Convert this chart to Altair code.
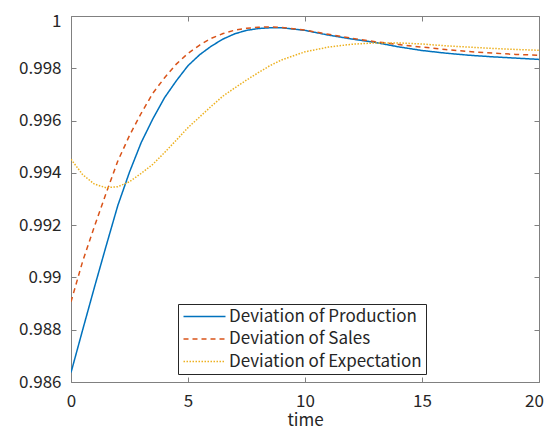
import altair as alt
import pandas as pd

t = [0, 0.5, 1, 1.5, 2, 2.5, 3, 3.5, 4, 4.5, 5, 5.5, 6, 6.5, 7, 7.5, 8, 8.5, 9,
     10, 11, 12, 13, 14, 15, 16, 17, 18, 19, 20]

production = [0.98636, 0.98800, 0.98962, 0.99120, 0.99275, 0.99403, 0.99516, 0.99607,
              0.99688, 0.99752, 0.99810, 0.99852, 0.99885, 0.99912, 0.99932, 0.99945,
              0.99952, 0.99955, 0.99955, 0.99945, 0.99927, 0.99912, 0.99899, 0.99882,
              0.99868, 0.99858, 0.99850, 0.99844, 0.99839, 0.99834]

sales = [0.98907, 0.99062, 0.99195, 0.99322, 0.99445, 0.99543, 0.99628, 0.99705,
         0.99764, 0.99816, 0.99857, 0.99889, 0.99915, 0.99933, 0.99946, 0.99953,
         0.99957, 0.99958, 0.99956, 0.99946, 0.99930, 0.99915, 0.99902, 0.99891,
         0.99881, 0.99872, 0.99864, 0.99858, 0.99853, 0.99850]

expectation = [0.99452, 0.99393, 0.99357, 0.99343, 0.99347, 0.99366, 0.99398, 0.99433,
               0.99478, 0.99525, 0.99573, 0.99614, 0.99655, 0.99694, 0.99725, 0.99755,
               0.99783, 0.99810, 0.99832, 0.99863, 0.99881, 0.99892, 0.99897, 0.99897,
               0.99893, 0.99886, 0.99881, 0.99876, 0.99872, 0.99869]

series_names = ["Deviation of Production", "Deviation of Sales", "Deviation of Expectation"]
series_colors = ["#0072BD", "#D95319", "#EDB120"]
series_dashes = [[1, 0], [5, 4], [1.5, 1.5]]

x_ticks = [0, 5, 10, 15, 20]
y_ticks = [0.986, 0.988, 0.99, 0.992, 0.994, 0.996, 0.998, 1.0]

rows = []
for name, vals in zip(series_names, [production, sales, expectation]):
    for ti, v in zip(t, vals):
        rows.append({"time": ti, "value": v, "series": name})
df = pd.DataFrame(rows)

FONT = "Noto Sans CJK JP"
TXT = "#262626"
AX = "#808080"

xscale = alt.Scale(domain=[0, 20], nice=False, zero=False)
yscale = alt.Scale(domain=[0.986, 1.0], nice=False, zero=False)

lines = alt.Chart(df).mark_line(strokeWidth=1.5, clip=True).encode(
    x=alt.X("time:Q", scale=xscale,
            axis=alt.Axis(values=x_ticks, format="d", orient="bottom", offset=-5,
                          tickSize=5, domain=False, grid=False, tickColor=AX,
                          labelFlush=False, labelPadding=11, labelFontSize=17,
                          labelFont=FONT, labelColor=TXT, title="time", titleFont=FONT,
                          titleFontSize=17, titleFontWeight="normal",
                          titleColor=TXT, titlePadding=3,
                          labelOffset={"condition": {"test": "datum.value >= 20", "value": -5},
                                       "value": 0})),
    y=alt.Y("value:Q", scale=yscale,
            axis=alt.Axis(values=y_ticks, format="~g", orient="left", offset=-5,
                          tickSize=5, domain=False, grid=False, tickColor=AX,
                          labelFlush=False, labelPadding=10, labelFontSize=17,
                          labelFont=FONT, labelColor=TXT, title=None,
                          labelOffset={"condition": {"test": "datum.value >= 1", "value": 5},
                                       "value": 0})),
    color=alt.Color("series:N", sort=series_names,
                    scale=alt.Scale(domain=series_names, range=series_colors),
                    legend=alt.Legend(title=None, orient="none", legendX=107, legendY=288,
                                      symbolType="M-4.2,0H4.2", symbolSize=100,
                                      symbolStrokeWidth=1.5, symbolOffset=14,
                                      labelOffset=16, labelFont=FONT, labelFontSize=17,
                                      labelColor=TXT, labelLimit=400,
                                      strokeColor=TXT, fillColor="white",
                                      padding=4, rowPadding=4.5, labelBaseline="middle")),
    strokeDash=alt.StrokeDash("series:N", sort=series_names,
                              scale=alt.Scale(domain=series_names, range=series_dashes),
                              legend=alt.Legend(title=None)),
)

frame_ticks = alt.Chart(df).mark_line(opacity=0).encode(
    x=alt.X("time:Q", scale=xscale,
            axis=alt.Axis(values=x_ticks, orient="top", offset=-5, tickSize=5,
                          domain=False, grid=False, labels=False, tickColor=AX,
                          title=None)),
    y=alt.Y("value:Q", scale=yscale,
            axis=alt.Axis(values=y_ticks, orient="right", offset=-5, tickSize=5,
                          domain=False, grid=False, labels=False, tickColor=AX,
                          title=None)),
)

chart = alt.layer(lines, frame_ticks).resolve_axis(
    x="independent", y="independent"
).properties(
    width=468, height=366,
    autosize=alt.AutoSizeParams(type="none"),
    padding={"left": 63, "top": 8, "right": 5, "bottom": 46},
    background="white",
).configure_view(stroke=AX, strokeWidth=1)

chart.save("out.html", embed_options={"renderer": "svg", "actions": False})
